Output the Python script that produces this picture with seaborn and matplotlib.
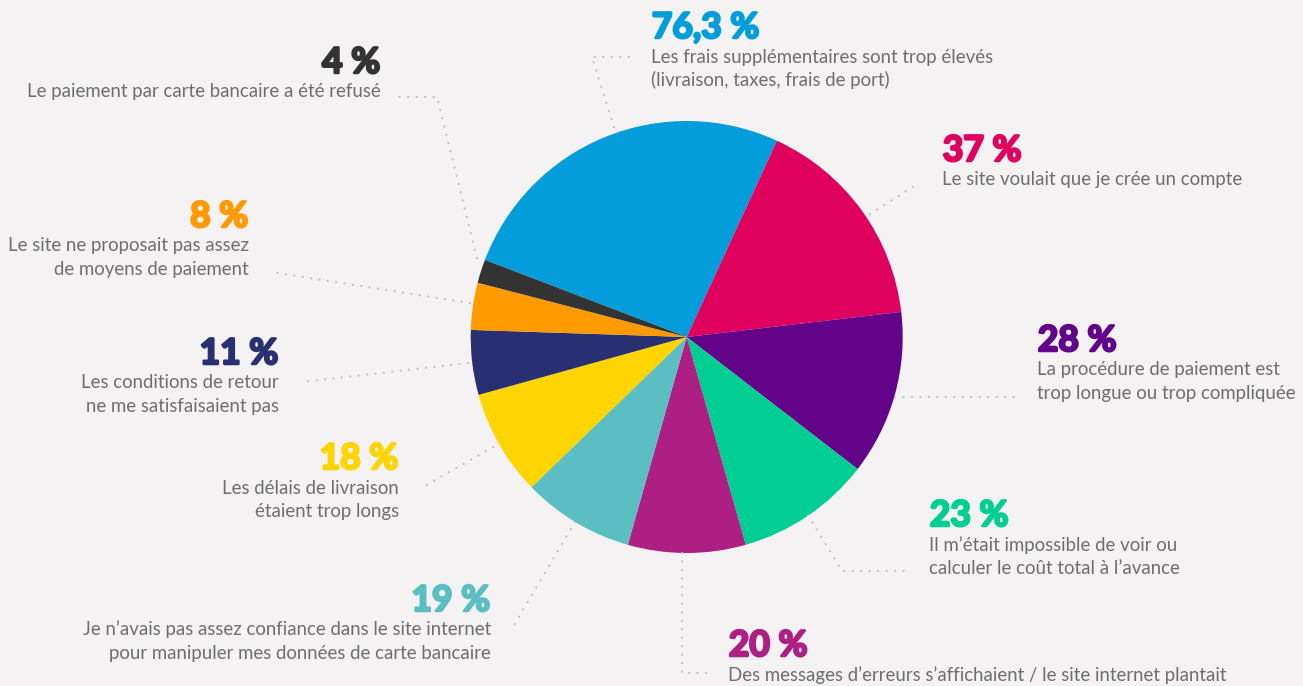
import matplotlib
matplotlib.use("Agg")
import matplotlib.pyplot as plt
import matplotlib.patheffects as pe
import seaborn as sns

# ---- data ----
pct_labels = ["76,3 %", "37 %", "28 %", "23 %", "20 %",
              "19 %", "18 %", "11 %", "8 %", "4 %"]
descriptions = [
    "Les frais supplémentaires sont trop élevés\n(livraison, taxes, frais de port)",
    "Le site voulait que je crée un compte",
    "La procédure de paiement est\ntrop longue ou trop compliquée",
    "Il m\u2019était impossible de voir ou\ncalculer le coût total à l\u2019avance",
    "Des messages d\u2019erreurs s\u2019affichaient / le site internet plantait",
    "Je n\u2019avais pas assez confiance dans le site internet\npour manipuler mes données de carte bancaire",
    "Les délais de livraison\nétaient trop longs",
    "Les conditions de retour\nne me satisfaisaient pas",
    "Le site ne proposait pas assez\nde moyens de paiement",
    "Le paiement par carte bancaire a été refusé",
]
# slice sizes as drawn in the picture (angles read from the wedges)
slice_sizes = [59.2, 37, 28, 23, 20, 19, 18, 11, 8, 4]
slice_colors = ["#039DDB", "#E0015F", "#62038A", "#00CE92", "#AD1F82",
                "#5BBEC2", "#FED401", "#283071", "#FF9A00", "#333333"]

# ---- layout (image pixel coordinates, y downward) ----
W, H = 1303, 686
CX, CY, R = 686.7, 337.0, 216.0
# (x, pct baseline, ha)
label_pos = [
    (651, 38, "left"), (942, 161, "left"), (1037, 351, "left"),
    (929, 526, "left"), (728, 656, "left"), (491, 611, "right"),
    (399, 469, "right"), (279, 364, "right"), (249, 227, "right"),
    (381, 73, "right"),
]
leaders = [
    [(614, 127), (592, 57), (631, 57)],
    [(870, 214), (919, 183)],
    [(895, 397), (1016, 397)],
    [(808, 515), (842, 571), (909, 571)],
    [(682, 553), (682, 673), (708, 673)],
    [(575, 522), (513, 627)],
    [(493, 447), (423, 487)],
    [(468, 363), (302, 382)],
    [(470, 303), (271, 272)],
    [(477, 258), (437, 97), (398, 97)],
]

BG = "#F4F2F3"
sns.set_theme(style="white", rc={"figure.facecolor": BG, "axes.facecolor": BG})
plt.rcParams["font.family"] = ["Lato", "DejaVu Sans"]
palette = sns.color_palette(slice_colors)

fig = plt.figure(figsize=(W / 100, H / 100), dpi=100)
ax = fig.add_axes([0, 0, 1, 1])
ax.set_facecolor(BG)

def fy(y):
    return H - y

ax.pie(slice_sizes, colors=palette, startangle=159.1, counterclock=False,
       center=(CX, fy(CY)), radius=R, wedgeprops=dict(linewidth=0))

for pts in leaders:
    xs = [p[0] for p in pts]
    ys = [fy(p[1]) for p in pts]
    ax.plot(xs, ys, color="#BDBDBD", linewidth=1.6,
            linestyle=(0, (0.01, 3.8)), dash_capstyle="round", zorder=1)

for i, (x, yb, ha) in enumerate(label_pos):
    off = 0.8 if ha == "left" else -0.8
    ax.text(x + off, fy(yb), pct_labels[i], color=slice_colors[i], fontsize=25.5,
            fontweight="bold", fontstyle="normal", ha=ha, va="baseline",
            path_effects=[pe.withStroke(linewidth=1.8, foreground=slice_colors[i])])
    for j, line in enumerate(descriptions[i].split("\n")):
        ax.text(x, fy(yb + 24.5 + 23.5 * j), line, color="#6E6E6E",
                fontsize=13.4, ha=ha, va="baseline")

ax.set_xlim(0, W)
ax.set_ylim(0, H)
ax.set_aspect("equal")
ax.axis("off")
fig.savefig("out.png", dpi=100, facecolor=BG)
